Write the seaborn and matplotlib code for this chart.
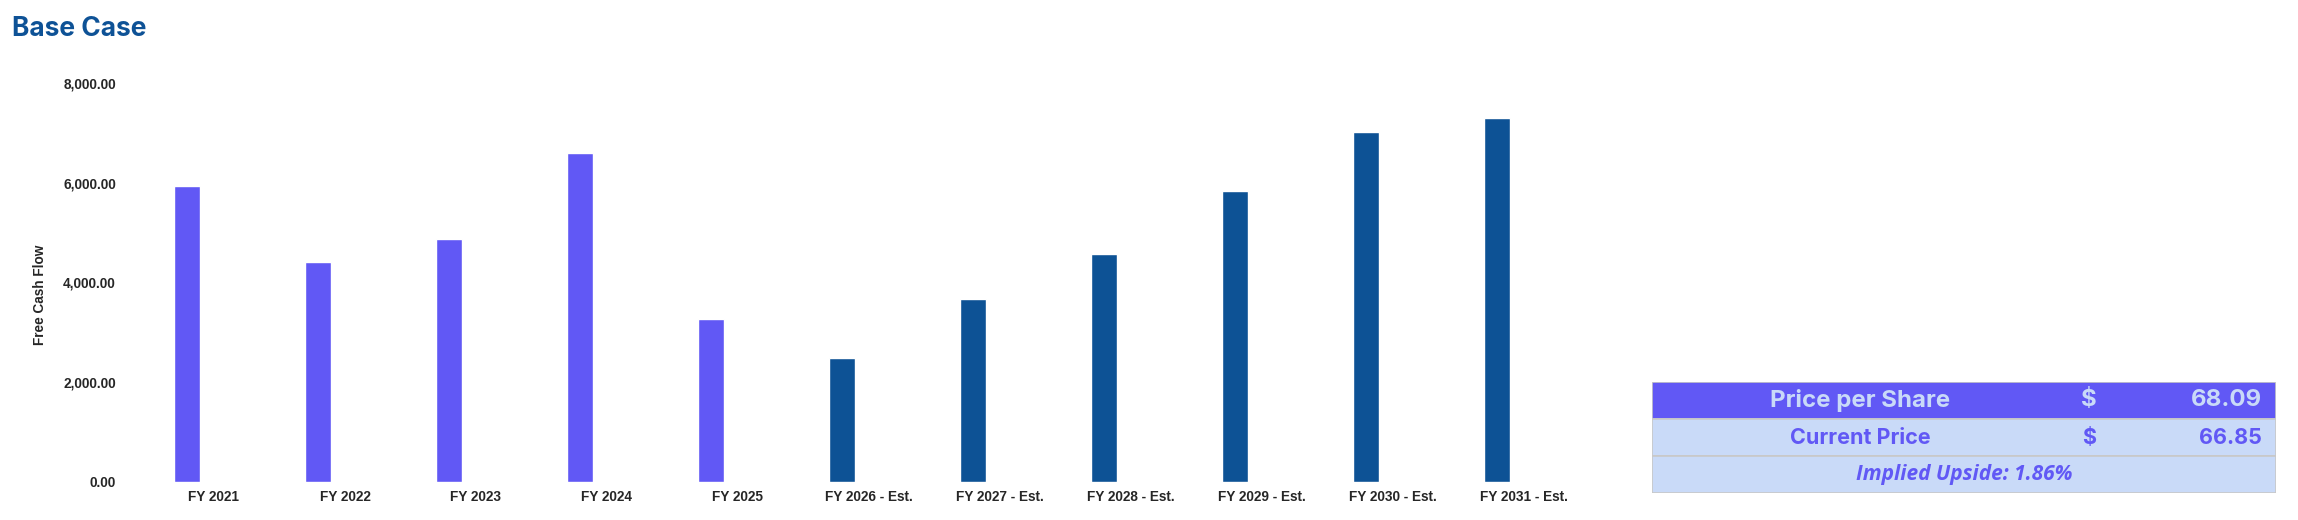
import numpy as np
import pandas as pd
import matplotlib.pyplot as plt
import seaborn as sns
from matplotlib.patches import Rectangle
from matplotlib.ticker import FuncFormatter

# Setup style
sns.set_theme(style="white")
plt.rcParams['font.family'] = ['Liberation Sans', 'DejaVu Sans']

# Data
years = ["FY 2021", "FY 2022", "FY 2023", "FY 2024", "FY 2025",
         "FY 2026 - Est.", "FY 2027 - Est.", "FY 2028 - Est.",
         "FY 2029 - Est.", "FY 2030 - Est.", "FY 2031 - Est."]
fcf = [5940, 4420, 4865, 6605, 3260, 2480, 3670, 4570, 5835, 7020, 7300]
kind = ["Actual"] * 5 + ["Estimate"] * 6

price_per_share = 68.09
current_price = 66.85
implied_upside = 1.86

PURPLE = "#6158F5"
BLUE = "#0D5295"
LIGHT = "#C9DAF8"

df = pd.DataFrame({"year": years, "fcf": fcf, "kind": kind})

fig = plt.figure(figsize=(22.98, 5.2), dpi=100)
ax = fig.add_axes([121.5 / 2298, 38.3 / 520, 1441 / 2298, 398.4 / 520])

sns.barplot(data=df, x="year", y="fcf", hue="kind",
            palette={"Actual": PURPLE, "Estimate": BLUE},
            dodge=False, width=0.2, legend=False, ax=ax, saturation=1)

ax.set_ylim(0, 8000)
ax.set_yticks([0, 2000, 4000, 6000, 8000])
ax.yaxis.set_major_formatter(FuncFormatter(lambda v, p: f"{v:,.2f}"))

# category labels sit a little to the right of the bars, as in the sheet chart
ax.set_xticks(np.arange(len(years)) + 0.206)
ax.set_xticklabels(years)

sns.despine(ax=ax, left=True, bottom=True)
ax.tick_params(axis="both", length=0, labelsize=9.8)
ax.tick_params(axis="y", pad=4)
ax.tick_params(axis="x", pad=6)
for lbl in ax.get_xticklabels() + ax.get_yticklabels():
    lbl.set_fontweight("bold")

ax.set_xlabel("")
ax.set_ylabel("Free Cash Flow", fontsize=9.8, fontweight="bold")
ax.yaxis.set_label_coords(-0.052, 0.47)

fig.text(12 / 2298, 1 - 29 / 520, "Base Case", ha="left", va="center",
         fontsize=19, fontweight="bold", color="#0E5296", family=["Inter", "DejaVu Sans"])

# Summary table on the right
tax = fig.add_axes([1652 / 2298, 27 / 520, 624 / 2298, 111 / 520])
tax.set_xlim(0, 624)
tax.set_ylim(111, 0)
tax.axis("off")

rows = [(PURPLE, LIGHT), (LIGHT, PURPLE), (LIGHT, PURPLE)]
for i, (bg, fg) in enumerate(rows):
    tax.add_patch(Rectangle((0, i * 37), 624, 37, facecolor=bg,
                            edgecolor="#C8C8C8", linewidth=1.2))

tfont = ["Inter", "DejaVu Sans"]
tax.text(208, 18.5, "Price per Share", ha="center", va="center", fontsize=17.3,
         fontweight="bold", color=LIGHT, family=tfont)
tax.text(437, 18.5, "$", ha="center", va="center", fontsize=17.3,
         fontweight="bold", color=LIGHT, family=tfont)
tax.text(610, 18.5, f"{price_per_share:.2f}", ha="right", va="center", fontsize=17.3,
         fontweight="bold", color=LIGHT, family=tfont)

tax.text(208, 55.5, "Current Price", ha="center", va="center", fontsize=15.5,
         fontweight="bold", color=PURPLE, family=tfont)
tax.text(437, 55.5, "$", ha="center", va="center", fontsize=15.5,
         fontweight="bold", color=PURPLE, family=tfont)
tax.text(610, 55.5, f"{current_price:.2f}", ha="right", va="center", fontsize=15.5,
         fontweight="bold", color=PURPLE, family=tfont)

tax.text(312, 92.5, f"Implied Upside: {implied_upside:.2f}%", ha="center", va="center",
         fontsize=15, fontweight="bold", fontstyle="italic", color=PURPLE,
         family=["Open Sans", "DejaVu Sans"])

fig.savefig("out.png", dpi=100)
